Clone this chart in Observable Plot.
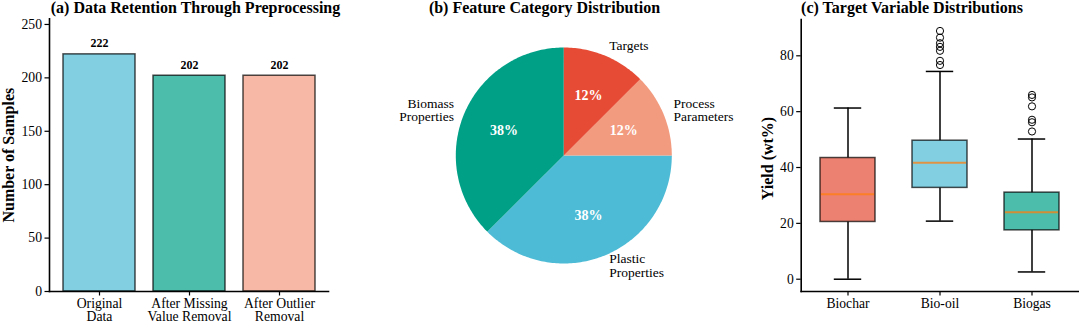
<!DOCTYPE html>
<html>
<head>
<meta charset="utf-8">
<script src="https://cdn.jsdelivr.net/npm/d3@7"></script>
<script src="https://cdn.jsdelivr.net/npm/@observablehq/plot@0.6"></script>
<style>
  html, body { margin: 0; padding: 0; background: #fff; }
  #wrap { position: relative; width: 1080px; height: 325px; overflow: hidden; background: #fff; }
  #wrap svg { position: absolute; top: 0; }
</style>
</head>
<body>
<div id="wrap"></div>
<script>
// ---------- Data ----------
// (a) bar chart
const stages = ["Original Data", "After Missing Value Removal", "After Outlier Removal"];
const stageTickLabels = ["Original\nData", "After Missing\nValue Removal", "After Outlier\nRemoval"];
const sampleCounts = [222, 202, 202];
const barColors = ["#4DBBD5", "#00A087", "#F39B7F"];
const barTicks = [0, 50, 100, 150, 200, 250];

// (b) pie chart
const pieNames = ["Biomass Properties", "Plastic Properties", "Process Parameters", "Targets"];
const pieLabelText = ["Biomass\nProperties", "Plastic\nProperties", "Process\nParameters", "Targets"];
const pieCounts = [3, 3, 1, 1];
const pieColors = ["#00A087", "#4DBBD5", "#F39B7F", "#E64B35"];

// (c) box plot (summary statistics)
const targets = ["Biochar", "Bio-oil", "Biogas"];
const whiskerLow = [0.0, 20.8, 2.6];
const quart1 = [20.5, 32.7, 17.5];
const medians = [30.4, 41.7, 24.0];
const quart3 = [43.4, 49.6, 31.0];
const whiskerHigh = [61.3, 74.4, 50.2];
const outlierBioOil = [88.9, 86.5, 84.5, 83.2, 81.8, 78.2, 76.7];
const outlierBiogas = [66.0, 65.1, 61.9, 57.1, 56.2, 52.9];
const boxColors = ["#E64B35", "#4DBBD5", "#00A087"];
const yieldTicks = [0, 20, 40, 60, 80];

const titles = ["(a) Data Retention Through Preprocessing", "(b) Feature Category Distribution", "(c) Target Variable Distributions"];

// ---------- Shared style ----------
const FONT = "Liberation Serif, Times New Roman, Times, serif";
const wrap = document.getElementById("wrap");
function place(svg, left) { svg.style.left = left + "px"; wrap.appendChild(svg); }

// ---------- (a) ----------
const barData = stages.map((s, i) => ({stage: s, count: sampleCounts[i]}));
const plotA = Plot.plot({
  width: 340, height: 325,
  marginLeft: 49, marginRight: 12, marginTop: 18.3, marginBottom: 34,
  style: {fontFamily: FONT, fontSize: "13.7px", color: "#000", background: "transparent", overflow: "visible"},
  x: {domain: stages, paddingInner: 0.2, paddingOuter: 0.14, label: null},
  y: {domain: [0, 255.3], label: null},
  color: {domain: stages, range: barColors},
  marks: [
    Plot.barY(barData, {x: "stage", y: "count", fill: "stage", fillOpacity: 0.7,
      stroke: "#000", strokeOpacity: 0.7, strokeWidth: 1.5}),
    Plot.text(barData, {x: "stage", y: "count", text: d => String(d.count), dy: -7,
      lineAnchor: "bottom", fontWeight: "bold", fontSize: 12, fontFamily: FONT}),
    Plot.axisX({tickSize: 4.5, tickPadding: 2.5, strokeWidth: 1.2, lineHeight: 0.98,
      fontFamily: FONT, fontSize: 13.7,
      tickFormat: d => stageTickLabels[stages.indexOf(d)]}),
    Plot.axisY({ticks: barTicks, tickSize: 4.5, tickPadding: 3, strokeWidth: 1.2, fontFamily: FONT, fontSize: 13.7}),
    Plot.frame({anchor: "left", strokeWidth: 1.6}),
    Plot.frame({anchor: "bottom", strokeWidth: 1.6}),
    Plot.text(["Number of Samples"], {frameAnchor: "left", text: d => d, rotate: -90,
      textAnchor: "middle", lineAnchor: "bottom", dx: -36, fontWeight: "bold", fontSize: 16, fontFamily: FONT}),
    Plot.text([titles[0]], {frameAnchor: "top", text: d => d, textAnchor: "middle", lineAnchor: "bottom",
      dx: 6.5, dy: -5.8, fontWeight: "bold", fontSize: 16, fontFamily: FONT})
  ]
});
place(plotA, 0);

// ---------- (b) ----------
function roundHalfEven(x) {
  const f = Math.floor(x), d = x - f;
  if (Math.abs(d - 0.5) < 1e-9) return f % 2 === 0 ? f : f + 1;
  return Math.round(x);
}
const pieTotal = d3.sum(pieCounts);
let theta = 90; // matplotlib startangle=90, counter-clockwise
const slices = pieNames.map((name, i) => {
  const a0 = theta, a1 = theta + 360 * pieCounts[i] / pieTotal;
  theta = a1;
  const ring = [[0, 0]];
  const n = Math.ceil(a1 - a0);
  for (let k = 0; k <= n; k++) {
    const a = (a0 + (a1 - a0) * k / n) * Math.PI / 180;
    ring.push([Math.cos(a), Math.sin(a)]);
  }
  ring.push([0, 0]);
  const mid = (a0 + a1) / 2 * Math.PI / 180;
  return {
    type: "Feature", properties: {name},
    geometry: {type: "Polygon", coordinates: [ring]},
    name, label: pieLabelText[i],
    pct: roundHalfEven(100 * pieCounts[i] / pieTotal) + "%",
    lx: 1.1 * Math.cos(mid), ly: 1.1 * Math.sin(mid),
    px: 0.6 * Math.cos(mid), py: 0.6 * Math.sin(mid)
  };
});
// projection domain: pixel frame expressed in pie units (radius 1 = 108 px)
const pieR = 108, pieCx = 203.3, pieCy = 155, pieW = 380, pieH = 325;
const pieDomain = {type: "Polygon", coordinates: [[
  [-pieCx / pieR, pieCy / pieR], [(pieW - pieCx) / pieR, pieCy / pieR],
  [(pieW - pieCx) / pieR, -(pieH - pieCy) / pieR], [-pieCx / pieR, -(pieH - pieCy) / pieR],
  [-pieCx / pieR, pieCy / pieR]]]};
const plotB = Plot.plot({
  width: pieW, height: pieH, margin: 0,
  style: {fontFamily: FONT, fontSize: "13.5px", color: "#000", background: "transparent", overflow: "visible"},
  projection: {type: "reflect-y", domain: pieDomain, clip: false},
  color: {domain: pieNames, range: pieColors},
  marks: [
    Plot.geo(slices, {fill: d => d.properties.name, stroke: "none"}),
    Plot.text(slices.filter(d => d.lx >= 0), {x: "lx", y: "ly", text: "label", textAnchor: "start", lineAnchor: "middle", fontSize: 13.5, lineHeight: 1.02, fontFamily: FONT}),
    Plot.text(slices.filter(d => d.lx < 0), {x: "lx", y: "ly", text: "label", textAnchor: "end", lineAnchor: "middle", fontSize: 13.5, lineHeight: 1.02, fontFamily: FONT}),
    Plot.text(slices, {x: "px", y: "py", text: "pct", fill: "white", fontWeight: "bold", fontSize: 14, lineAnchor: "middle", fontFamily: FONT}),
    Plot.text([titles[1]], {frameAnchor: "top", text: d => d, textAnchor: "middle", lineAnchor: "bottom",
      dx: -6, dy: 12.5, fontWeight: "bold", fontSize: 16, fontFamily: FONT})
  ]
});
place(plotB, 360);

// ---------- (c) ----------
const boxData = targets.map((t, i) => ({cat: t, lo: whiskerLow[i], q1: quart1[i], med: medians[i], q3: quart3[i], hi: whiskerHigh[i]}));
const outliers = [
  ...outlierBioOil.map(v => ({cat: "Bio-oil", v})),
  ...outlierBiogas.map(v => ({cat: "Biogas", v}))
];
const capInset = 13.8;
const plotC = Plot.plot({
  width: 340, height: 325,
  marginLeft: 60.7, marginRight: 2.3, marginTop: 19, marginBottom: 34,
  style: {fontFamily: FONT, fontSize: "13.6px", color: "#000", background: "transparent", overflow: "visible"},
  x: {domain: targets, paddingInner: 0.4, paddingOuter: 0.2, label: null},
  y: {domain: [-4.4, 93], label: null},
  color: {domain: targets, range: boxColors},
  marks: [
    Plot.ruleX(boxData, {x: "cat", y1: "lo", y2: "q1", stroke: "#000", strokeWidth: 1.5}),
    Plot.ruleX(boxData, {x: "cat", y1: "q3", y2: "hi", stroke: "#000", strokeWidth: 1.5}),
    Plot.tickY(boxData, {x: "cat", y: "lo", stroke: "#000", strokeWidth: 1.5, insetLeft: capInset, insetRight: capInset}),
    Plot.tickY(boxData, {x: "cat", y: "hi", stroke: "#000", strokeWidth: 1.5, insetLeft: capInset, insetRight: capInset}),
    Plot.barY(boxData, {x: "cat", y1: "q1", y2: "q3", fill: "cat", fillOpacity: 0.7,
      stroke: "#000", strokeOpacity: 0.7, strokeWidth: 1.5}),
    Plot.tickY(boxData, {x: "cat", y: "med", stroke: "#ff7f0e", strokeOpacity: 0.75, strokeWidth: 2, insetLeft: 1, insetRight: 1}),
    Plot.dot(outliers, {x: "cat", y: "v", r: 3.6, stroke: "#000", strokeWidth: 1, fill: "none"}),
    Plot.axisX({tickSize: 4.5, tickPadding: 2.5, strokeWidth: 1.2, fontFamily: FONT, fontSize: 13.6}),
    Plot.axisY({ticks: yieldTicks, tickSize: 4.5, tickPadding: 3, strokeWidth: 1.2, fontFamily: FONT, fontSize: 13.6}),
    Plot.frame({anchor: "left", strokeWidth: 1.6}),
    Plot.frame({anchor: "bottom", strokeWidth: 1.6}),
    Plot.text(["Yield (wt%)"], {frameAnchor: "left", text: d => d, rotate: -90,
      textAnchor: "middle", lineAnchor: "bottom", dx: -28.7, dy: 3, fontWeight: "bold", fontSize: 16, fontFamily: FONT}),
    Plot.text([titles[2]], {frameAnchor: "top", text: d => d, textAnchor: "middle", lineAnchor: "bottom",
      dx: -27.7, dy: -6.5, fontWeight: "bold", fontSize: 16, fontFamily: FONT})
  ]
});
place(plotC, 740);
</script>
</body>
</html>
